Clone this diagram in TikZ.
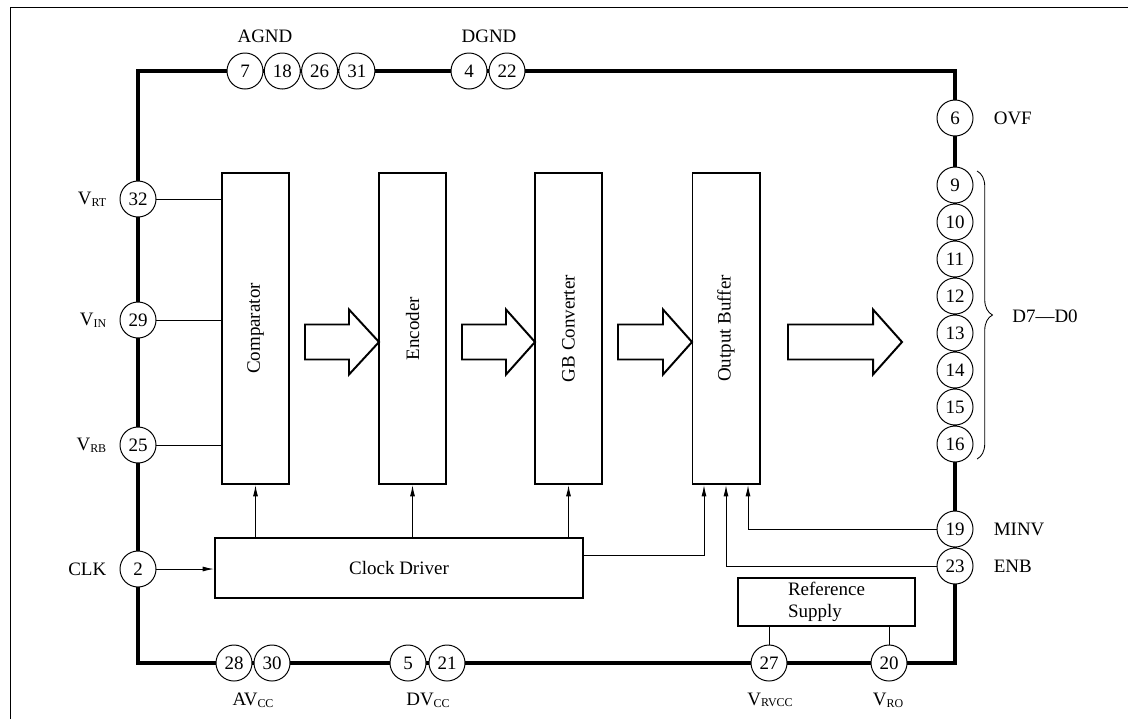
\documentclass[tikz,border=0pt]{standalone}
\usepackage{fontspec}
\usepackage{graphicx}
\setmainfont{Liberation Serif}
\usetikzlibrary{positioning}
\usetikzlibrary{arrows.meta}
\usetikzlibrary{decorations.pathreplacing}
\newcommand{\pinsub}[1]{\raisebox{-1.2pt}{\fontsize{8.5}{9}\selectfont #1}}

\begin{document}
\begin{tikzpicture}[x=0.025cm,y=-0.025cm,
		every node/.style={font=\fontsize{13.5}{15.5}\selectfont},
		pincircle/.style={circle,draw,fill=white,line width=0.7pt,minimum size=0.9cm,inner sep=0pt},
		block/.style={draw,line width=1.4pt,minimum width=1.675cm,minimum height=7.775cm,inner sep=0pt},
		lbl/.style={inner sep=0pt},
		sig/.style={line width=0.7pt},
		sigarrow/.style={sig,-{Latex[length=8pt,width=3.5pt]}},
		bigarrow/.style={draw,fill=white,line width=1.4pt,line join=miter}]
	\useasboundingbox (0,0) rectangle (1128,719);
	\draw[line width=0.7pt] (10,719) -- (10,7) -- (1128,7);
	% chip outline
	\draw[line width=2.8pt] (138,71) rectangle (955,663);
	% blocks
	\node[block] (cmp) at (255.5,328.5) {\rotatebox{90}{Comparator}};
	\node[block] (enc) at (412.5,328.5) {\rotatebox{90}{Encoder}};
	\node[block] (gbc) at (568.5,328.5) {\rotatebox{90}{GB Converter}};
	\node[block] (obuf) at (726,328.5) {\rotatebox{90}{Output Buffer}};
	\node[draw,line width=1.4pt,minimum width=9.2cm,minimum height=1.5cm] (clk) at (399,568) {Clock Driver};
	\node[draw,line width=1.4pt,minimum width=4.425cm,minimum height=1.2cm,align=left,inner sep=0pt] (ref) at (826.5,602) {Reference\\Supply};
	\foreach \t/\b/\p in {305/349/379,462/506/535,618/663/692,788/873/902}
		\draw[bigarrow] (\t,324.5) -- (\b,324.5) -- (\b,309.5) -- (\p,342) -- (\b,374.5) -- (\b,359.5) -- (\t,359.5) -- cycle;
	% pins
	\foreach \n [count=\i from 0] in {7,18,26,31}
		\node[pincircle] (p\n) at (245+37.3*\i,71) {\n};
	\node[pincircle] (p4) at (469,71) {4};
	\node[pincircle] (p22) at (507,71) {22};
	\foreach \n/\y in {32/199,29/320,25/445,2/569}
		\node[pincircle] (p\n) at (138,\y) {\n};
	\foreach \n/\x in {28/234,30/272,5/408,21/447,27/769,20/889}
		\node[pincircle] (p\n) at (\x,663) {\n};
	\node[pincircle] (p6) at (955,118) {6};
	\foreach \n [count=\i from 0] in {9,...,16}
		\node[pincircle] (p\n) at (955,185+37*\i) {\n};
	\node[pincircle] (p19) at (955,529) {19};
	\node[pincircle] (p23) at (955,566) {23};
	% pin labels
	\node[lbl] (agnd) at (265,36) {AGND};
	\node[lbl] (dgnd) at (489,36) {DGND};
	\node[lbl,left=0.325cm of p32] (lvrt) {V\pinsub{RT}};
	\node[lbl,left=0.325cm of p29] (lvin) {V\pinsub{IN}};
	\node[lbl,left=0.325cm of p25] (lvrb) {V\pinsub{RB}};
	\node[lbl,left=0.325cm of p2] (lclk) {CLK};
	\node[lbl] (lavcc) at (253,700) {AV\pinsub{CC}};
	\node[lbl] (ldvcc) at (428,700) {DV\pinsub{CC}};
	\node[lbl] (lvrvcc) at (770,700) {V\pinsub{RVCC}};
	\node[lbl] (lvro) at (888,700) {V\pinsub{RO}};
	\node[lbl,right=0.5cm of p6] (lovf) {OVF};
	\node[lbl,right=0.5cm of p19] (lminv) {MINV};
	\node[lbl,right=0.5cm of p23] (lenb) {ENB};
	\draw[decorate,decoration={brace,amplitude=11pt},line width=0.6pt] (977,171) -- (977,459);
	\node[lbl] (dbus) at (1045,316) {D7---D0};
	% signals
	\foreach \n in {32,29,25}
		\draw[sig] (p\n) -- (p\n -| cmp.west);
	\draw[sigarrow] (p2) -- (p2 -| clk.west);
	\foreach \b in {cmp,enc,gbc}
		\draw[sigarrow] (clk.north -| \b.south) -- (\b.south);
	\draw[sigarrow] ([yshift=0.325cm]clk.east) -| ([xshift=-0.55cm]obuf.south);
	\draw[sigarrow] (p23) -| (obuf.south);
	\draw[sigarrow] (p19) -| ([xshift=0.55cm]obuf.south);
	\draw[sig] (p27) -- (p27 |- ref.south);
	\draw[sig] (p20) -- (p20 |- ref.south);
\end{tikzpicture}
\end{document}
